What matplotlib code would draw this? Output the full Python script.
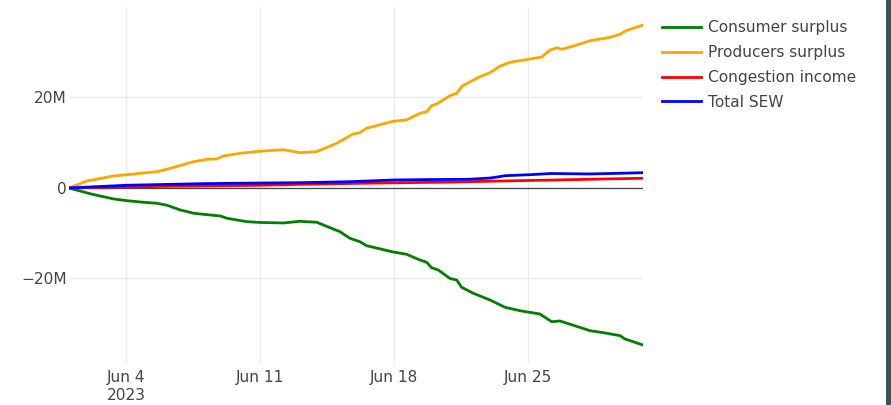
import numpy as np
import pandas as pd
import matplotlib
matplotlib.use("Agg")
import matplotlib.pyplot as plt
from matplotlib.patches import Rectangle

start = pd.Timestamp("2023-06-01")

# days since Jun 1, values in millions
cons_days = [0, 1.22, 2.34, 3.04, 3.90, 4.60, 5.13, 5.82, 6.52, 7.22, 7.91, 8.26, 9.31, 10.0,
             11.22, 12.07, 12.95, 14.16, 14.68, 15.20, 15.55, 16.94, 17.64, 18.34, 18.69, 18.95,
             19.30, 19.91, 20.26, 20.52, 21.13, 22.0, 22.79, 23.57, 24.61, 25.23, 25.66, 26.36,
             27.23, 27.93, 28.80, 29.06, 30.0]
cons_vals = [0, -1.39, -2.43, -2.81, -3.16, -3.38, -3.82, -4.86, -5.59, -5.90, -6.19, -6.70, -7.45, -7.62,
             -7.73, -7.36, -7.58, -9.66, -11.12, -11.87, -12.75, -14.14, -14.65, -15.91, -16.42, -17.61,
             -18.12, -20.0, -20.33, -21.94, -23.27, -24.75, -26.37, -27.12, -27.85, -29.55, -29.39, -30.34,
             -31.54, -31.98, -32.64, -33.37, -34.70]

prod_days = [0, 0.94, 2.32, 3.04, 3.89, 4.60, 5.30, 6.50, 7.21, 7.73, 8.06, 8.95, 10.0, 11.2,
             12.07, 12.94, 13.99, 14.84, 15.20, 15.55, 16.93, 17.64, 18.34, 18.69, 18.95, 19.21,
             19.91, 20.26, 20.55, 21.48, 22.0, 22.54, 23.06, 24.1, 24.71, 25.14, 25.5, 25.76,
             26.54, 27.24, 28.28, 28.81, 29.07, 30.0]
prod_vals = [0, 1.55, 2.65, 2.94, 3.31, 3.60, 4.35, 5.81, 6.34, 6.41, 7.07, 7.67, 8.13, 8.46,
             7.80, 8.02, 9.88, 11.93, 12.22, 13.19, 14.74, 15.03, 16.51, 16.86, 18.19, 18.56,
             20.40, 20.93, 22.54, 24.60, 25.48, 26.96, 27.78, 28.51, 28.95, 30.50, 31.0, 30.65,
             31.60, 32.55, 33.30, 33.97, 34.70, 36.02]

cong_days = [0, 3.0, 6.9, 10.0, 12.07, 14.7, 17.0, 20.0, 22.0, 25.2, 27.5, 30.0]
cong_vals = [0, 0.25, 0.45, 0.6, 0.8, 1.0, 1.15, 1.3, 1.5, 1.75, 1.95, 2.15]

sew_days = [0, 3.0, 6.87, 10.0, 12.07, 14.68, 17.03, 18.5, 20.9, 22.0, 22.5, 22.8, 24.1, 25.2,
            27.2, 28.8, 30.0]
sew_vals = [0, 0.6, 0.95, 1.1, 1.17, 1.39, 1.77, 1.85, 1.92, 2.2, 2.5, 2.72, 2.94, 3.2,
            3.1, 3.25, 3.38]

series = [
    ("Consumer surplus", cons_days, cons_vals, "#008000"),
    ("Producers surplus", prod_days, prod_vals, "#FFA500"),
    ("Congestion income", cong_days, cong_vals, "#FF0000"),
    ("Total SEW", sew_days, sew_vals, "#0000FF"),
]

tick_days = [3, 10, 17, 24]
tick_labels = ["Jun 4\n2023", "Jun 11", "Jun 18", "Jun 25"]
ytick_vals = [-20, 0, 20]
ytick_labels = ["\u221220M", "0", "20M"]

plt.rcParams["font.family"] = ["DejaVu Sans"]
txt = "#444444"
fs = 11.1

fig = plt.figure(figsize=(8.91, 4.05), dpi=100)
W, H = 891, 405
ax = fig.add_axes([69 / W, 41 / H, (643 - 69) / W, (364 - 7) / H])

def to_dates(days):
    return start + pd.to_timedelta(np.array(days), unit="D")

for name, d, v, c in series:
    ax.plot(to_dates(d), v, color=c, lw=2, label=name, solid_joinstyle="round", zorder=3)

ax.axhline(0, color="#444444", lw=0.9, zorder=2)
ax.set_xlim(to_dates([0])[0], to_dates([30])[0])
ax.set_ylim(-38.9, 40.0)

ax.set_xticks(to_dates(tick_days))
ax.set_xticklabels(tick_labels, ha="center", linespacing=1.3)
ax.set_yticks(ytick_vals)
ax.set_yticklabels(ytick_labels)
ax.tick_params(axis="both", length=0, labelsize=fs, colors=txt)
ax.tick_params(axis="x", pad=4)
ax.tick_params(axis="y", pad=1.5)
ax.grid(True, color="#ebebeb", lw=1, zorder=0)
for s in ax.spines.values():
    s.set_visible(False)

leg = ax.legend(loc="upper left", bbox_to_anchor=(656 / W, 1 - 14 / H), bbox_transform=fig.transFigure,
                frameon=False, fontsize=fs, handlelength=2.5, handletextpad=0.5,
                labelspacing=0.64, borderaxespad=0)
for t in leg.get_texts():
    t.set_color(txt)

fig.patches.append(Rectangle((886 / W, 0), 5 / W, 1, transform=fig.transFigure,
                             facecolor="#3d4f58", edgecolor="none"))

fig.savefig("out.png", dpi=100)
